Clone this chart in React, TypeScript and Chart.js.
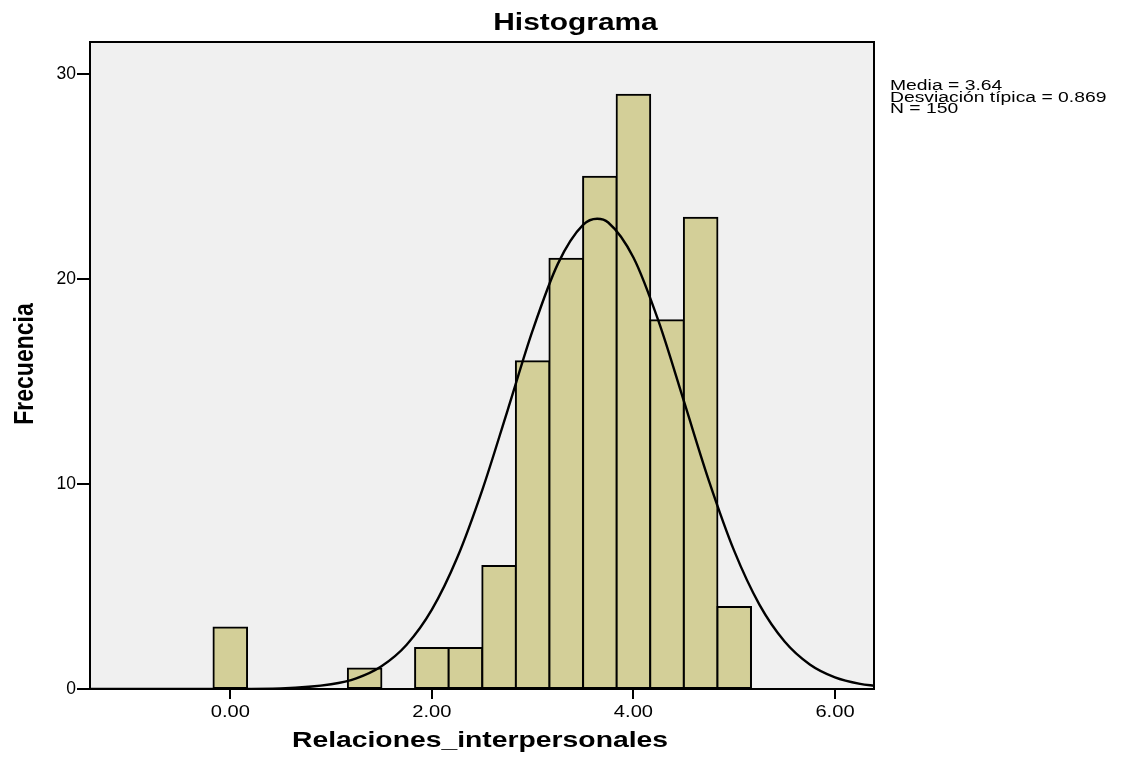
import React, { useEffect, useRef } from "react";
import { Chart, registerables } from "chart.js";

Chart.register(...registerables);

// Histogram bins (centres) and frequencies
const BIN_CENTERS = [0.0, 1.333, 2.0, 2.333, 2.667, 3.0, 3.333, 3.667, 4.0, 4.333, 4.667, 5.0];
const FREQUENCIES = [3, 1, 2, 2, 6, 16, 21, 25, 29, 18, 23, 4];

// Normal curve points
const CURVE_X = [-1.4, -0.5, 0.0, 0.5, 1.0, 1.25, 1.5, 1.75, 2.0, 2.25, 2.5, 2.75, 3.0, 3.25, 3.5, 3.64, 3.75, 4.0, 4.25, 4.5, 4.75, 5.0, 5.25, 5.5, 5.75, 6.0, 6.25, 6.4];
const CURVE_Y = [0, 0, 0.004, 0.03, 0.23, 0.52, 1.11, 2.16, 3.87, 6.39, 9.71, 13.58, 17.5, 20.75, 22.65, 22.95, 22.77, 21.06, 17.94, 14.06, 10.15, 6.74, 4.12, 2.32, 1.2, 0.57, 0.25, 0.15];

const Y_TICKS = [0, 10, 20, 30];
const X_TICKS = [0, 2, 4, 6];
const X_TICK_LABELS = ["0.00", "2.00", "4.00", "6.00"];

const TITLE = "Histograma";
const X_TITLE = "Relaciones_interpersonales";
const Y_TITLE = "Frecuencia";
const STATS_LINES = ["Media = 3.64", "Desviación típica = 0.869", "N = 150"];

const FONT = '"Liberation Sans", Arial, Helvetica, sans-serif';

function drawStretched(ctx: CanvasRenderingContext2D, text: string, x: number, y: number, sx: number, align: CanvasTextAlign) {
  ctx.save();
  ctx.translate(x, y);
  ctx.scale(sx, 1);
  ctx.textAlign = align;
  ctx.textBaseline = "alphabetic";
  ctx.fillText(text, 0, 0);
  ctx.restore();
}

const decorPlugin = {
  id: "decor",
  beforeDraw(chart: any) {
    const { ctx, chartArea: a } = chart;
    ctx.save();
    ctx.fillStyle = "#ffffff";
    ctx.fillRect(0, 0, chart.width, chart.height);
    ctx.fillStyle = "#f0f0f0";
    ctx.fillRect(a.left, a.top, a.right - a.left, a.bottom - a.top);
    ctx.restore();
  },
  afterDatasetsDraw(chart: any) {
    const { ctx, chartArea: a } = chart;
    ctx.save();
    ctx.strokeStyle = "#000";
    ctx.lineWidth = 2;
    ctx.strokeRect(a.left, a.top, a.right - a.left, a.bottom - a.top);
    ctx.restore();
  },
  afterDraw(chart: any) {
    const { ctx, chartArea: a } = chart;
    const xs = chart.scales.x;
    ctx.save();
    ctx.fillStyle = "#000";
    // X tick labels
    ctx.font = `16.5px ${FONT}`;
    X_TICKS.forEach((v, i) => drawStretched(ctx, X_TICK_LABELS[i], xs.getPixelForValue(v), 716.7, 1.22, "center"));
    // Title
    ctx.font = `bold 23px ${FONT}`;
    drawStretched(ctx, TITLE, 575.5, 30, 1.3, "center");
    // X title
    ctx.font = `bold 22px ${FONT}`;
    drawStretched(ctx, X_TITLE, (a.left + a.right) / 2 - 2, 747, 1.287, "center");
    // Y title
    ctx.save();
    ctx.translate(33, 364);
    ctx.scale(1.2, 1);
    ctx.rotate(-Math.PI / 2);
    ctx.font = `bold 23px ${FONT}`;
    ctx.textAlign = "center";
    ctx.textBaseline = "alphabetic";
    ctx.fillText(Y_TITLE, 0, 0);
    ctx.restore();
    // Stats
    ctx.font = `14px ${FONT}`;
    const baselines = [90, 101.7, 113.3];
    STATS_LINES.forEach((t, i) => drawStretched(ctx, t, a.right + 16, baselines[i], 1.38, "left"));
    ctx.restore();
  },
};

export default function App() {
  const canvasRef = useRef<HTMLCanvasElement | null>(null);

  useEffect(() => {
    const canvas = canvasRef.current;
    if (!canvas) return;
    const chart = new Chart(canvas, {
      type: "bar",
      data: {
        datasets: [
          {
            type: "line",
            label: "Normal",
            data: CURVE_X.map((x, i) => ({ x, y: CURVE_Y[i] })),
            borderColor: "#000",
            borderWidth: 2.4,
            pointRadius: 0,
            fill: false,
            cubicInterpolationMode: "monotone",
            order: 0,
          } as any,
          {
            type: "bar",
            label: "Frecuencia",
            data: BIN_CENTERS.map((x, i) => ({ x, y: FREQUENCIES[i] })),
            backgroundColor: "#d3cf98",
            borderColor: "#000",
            borderWidth: 2,
            inflateAmount: 1,
            borderSkipped: false,
            barPercentage: 1,
            categoryPercentage: 1,
            order: 1,
          } as any,
        ],
      },
      options: {
        responsive: false,
        maintainAspectRatio: false,
        animation: false,
        layout: { padding: { left: 0, top: 42, right: 250, bottom: 0 } },
        plugins: {
          legend: { display: false },
          tooltip: { enabled: false },
          title: { display: false },
        },
        scales: {
          x: {
            type: "linear",
            min: -1.392,
            max: 6.387,
            offset: false,
            afterBuildTicks: (s: any) => {
              s.ticks = X_TICKS.map((v) => ({ value: v }));
            },
            afterFit: (s: any) => {
              s.height = 74;
            },
            grid: {
              offset: false,
              drawOnChartArea: false,
              drawTicks: true,
              tickLength: 10,
              color: "#000",
              lineWidth: 2,
            },
            border: { display: false },
            ticks: {
              display: false,
              autoSkip: false,
            },
          },
          y: {
            type: "linear",
            min: 0,
            max: 31.58,
            afterBuildTicks: (s: any) => {
              s.ticks = Y_TICKS.map((v) => ({ value: v }));
            },
            afterFit: (s: any) => {
              s.width = 90;
            },
            grid: {
              drawOnChartArea: false,
              drawTicks: true,
              tickLength: 13,
              color: "#000",
              lineWidth: 2,
            },
            border: { display: false },
            ticks: {
              color: "#000",
              padding: 1,
              autoSkip: false,
              font: { family: FONT, size: 17.5 },
              callback: (v: any) => String(v),
            },
          },
        },
      },
      plugins: [decorPlugin],
    });
    return () => chart.destroy();
  }, []);

  return (
    <div style={{ position: "fixed", left: 0, top: 0, width: 1124, height: 763, background: "#fff" }}>
      <canvas ref={canvasRef} width={1124} height={763} style={{ width: 1124, height: 763, display: "block" }} />
    </div>
  );
}
